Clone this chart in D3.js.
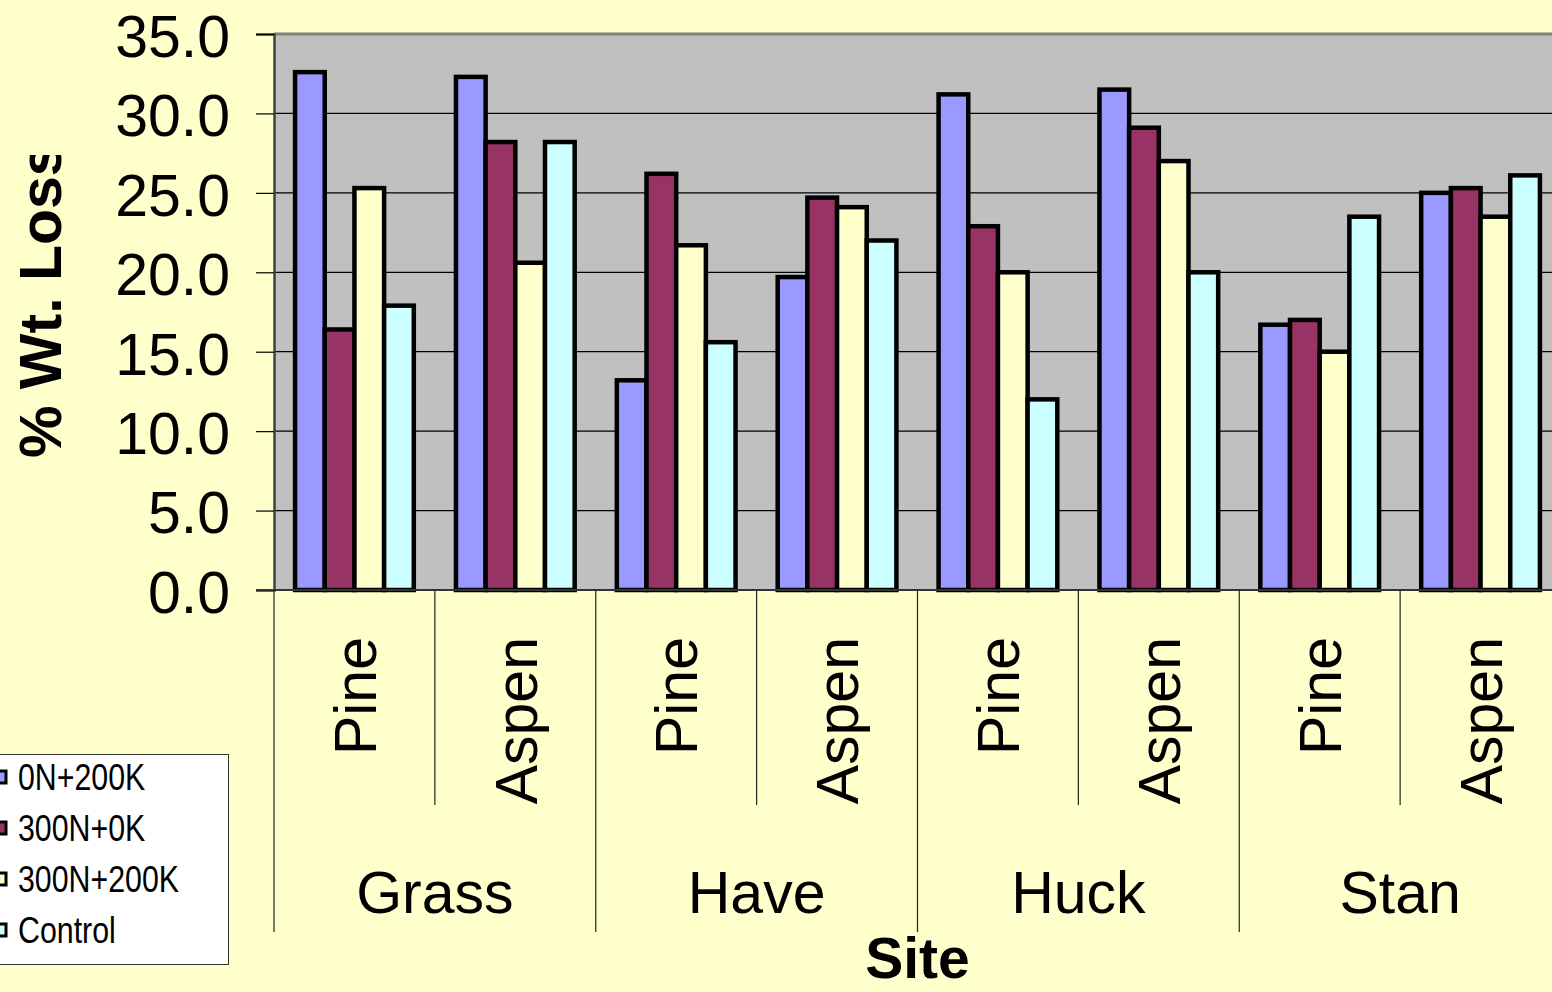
<!DOCTYPE html>
<html>
<head>
<meta charset="utf-8">
<script src="https://cdn.jsdelivr.net/npm/d3@7"></script>
<style>
  html, body { margin: 0; padding: 0; background: #FFFFCC; overflow: hidden; }
  svg { display: block; }
</style>
</head>
<body>
<svg id="chart" width="1552" height="992"></svg>
<script>
// Litter bag decomposition: percent weight loss by site, litter type and fertiliser treatment
const sites = ["Grass", "Have", "Huck", "Stan"];
const litterTypes = ["Pine", "Aspen"];
const seriesNames = ["0N+200K", "300N+0K", "300N+200K", "Control"];
const seriesColors = ["#9999FF", "#993366", "#FFFFCC", "#CCFFFF"];

const lossN0K200 = [32.6, 32.3, 13.2, 19.7, 31.2, 31.5, 16.7, 25.0];
const lossN300K0 = [16.4, 28.2, 26.2, 24.7, 22.9, 29.1, 17.0, 25.3];
const lossN300K200 = [25.3, 20.6, 21.7, 24.1, 20.0, 27.0, 15.0, 23.5];
const lossControl = [17.9, 28.2, 15.6, 22.0, 12.0, 20.0, 23.5, 26.1];

const yTicks = [0, 5, 10, 15, 20, 25, 30, 35];

const seriesValues = [lossN0K200, lossN300K0, lossN300K200, lossControl];

// one category per site/litter-type pair
const categories = [];
sites.forEach(s => litterTypes.forEach(t => categories.push({ site: s, type: t, key: s + "|" + t })));

const svg = d3.select("#chart");
const W = 1552, H = 992;

const plot = { left: 274, top: 34, right: 1561, bottom: 590 };

const x = d3.scaleBand()
  .domain(categories.map(c => c.key))
  .range([plot.left, plot.right])
  .paddingInner(0.262)
  .paddingOuter(0.131);

const xInner = d3.scaleBand()
  .domain(seriesNames)
  .range([0, x.bandwidth()])
  .padding(0);

const y = d3.scaleLinear().domain([0, 35]).range([plot.bottom, plot.top]);

const step = x.step();
const catStart = i => plot.left + i * step;

// plot area
svg.append("rect")
  .attr("x", plot.left).attr("y", plot.top)
  .attr("width", plot.right - plot.left).attr("height", plot.bottom - plot.top)
  .attr("fill", "#C0C0C0");

// horizontal gridlines
svg.append("g")
  .selectAll("line")
  .data(yTicks.filter(v => v > 0 && v < 35))
  .join("line")
  .attr("x1", plot.left).attr("x2", plot.right)
  .attr("y1", d => y(d)).attr("y2", d => y(d))
  .attr("stroke", "#000").attr("stroke-width", 1.2);

// plot border at the top
svg.append("line")
  .attr("x1", plot.left).attr("x2", plot.right)
  .attr("y1", y(35)).attr("y2", y(35))
  .attr("stroke", "#808080").attr("stroke-width", 3);

// bars
const barData = [];
seriesNames.forEach((name, si) => {
  categories.forEach((c, ci) => {
    barData.push({ series: name, color: seriesColors[si], key: c.key, value: seriesValues[si][ci] });
  });
});

svg.append("g")
  .selectAll("rect")
  .data(barData)
  .join("rect")
  .attr("x", d => x(d.key) + xInner(d.series))
  .attr("y", d => y(d.value))
  .attr("width", xInner.bandwidth())
  .attr("height", d => y(0) - y(d.value))
  .attr("fill", d => d.color)
  .attr("stroke", "#000")
  .attr("stroke-width", 4.5);

// value axis
const yAxis = d3.axisLeft(y)
  .tickValues(yTicks)
  .tickSize(18)
  .tickPadding(26)
  .tickFormat(d3.format(".1f"));

const yg = svg.append("g")
  .attr("transform", `translate(${plot.left},0)`)
  .call(yAxis);
yg.select(".domain").attr("stroke", "#404040").attr("stroke-width", 2.5);
yg.selectAll(".tick line").attr("stroke", "#000").attr("stroke-width", 1.2);
yg.selectAll(".tick text")
  .attr("font-family", "'Liberation Sans', Arial, sans-serif")
  .attr("font-size", 59)
  .attr("fill", "#000")
  .attr("dy", "0.38em");

// category axis line
svg.append("line")
  .attr("x1", plot.left - 18).attr("x2", plot.right)
  .attr("y1", plot.bottom).attr("y2", plot.bottom)
  .attr("stroke", "#333").attr("stroke-width", 2);

// dividers between categories: short within a site, long between sites
const dividers = d3.range(categories.length + 1).map(i => ({ x: catStart(i), long: i % litterTypes.length === 0 }));
svg.append("g")
  .selectAll("line")
  .data(dividers)
  .join("line")
  .attr("x1", d => d.x).attr("x2", d => d.x)
  .attr("y1", plot.bottom)
  .attr("y2", d => d.long ? 932 : 805)
  .attr("stroke", "#222").attr("stroke-width", 1.2);

// litter type labels (rotated)
svg.append("g")
  .selectAll("text")
  .data(categories)
  .join("text")
  .attr("transform", d => `translate(${x(d.key) + x.bandwidth() / 2},637) rotate(-90)`)
  .attr("text-anchor", "end")
  .attr("dy", "0.36em")
  .attr("font-family", "'Liberation Sans', Arial, sans-serif")
  .attr("font-size", 59)
  .attr("fill", "#000")
  .text(d => d.type);

// site labels
svg.append("g")
  .selectAll("text")
  .data(sites)
  .join("text")
  .attr("x", (d, i) => catStart(i * litterTypes.length) + step * litterTypes.length / 2)
  .attr("y", 913)
  .attr("text-anchor", "middle")
  .attr("font-family", "'Liberation Sans', Arial, sans-serif")
  .attr("font-size", 59)
  .attr("fill", "#000")
  .text(d => d);

// axis titles
svg.append("text")
  .attr("x", (plot.left + plot.right) / 2)
  .attr("y", 978)
  .attr("text-anchor", "middle")
  .attr("font-family", "'Liberation Sans', Arial, sans-serif")
  .attr("font-weight", "bold")
  .attr("font-size", 57)
  .attr("fill", "#000")
  .text("Site");

svg.append("clipPath").attr("id", "ytitle-clip")
  .append("rect").attr("x", 0).attr("y", 155).attr("width", 120).attr("height", H - 155);

svg.append("g")
  .attr("clip-path", "url(#ytitle-clip)")
  .append("text")
  .attr("transform", "translate(61,458) rotate(-90)")
  .attr("text-anchor", "start")
  .attr("font-family", "'Liberation Sans', Arial, sans-serif")
  .attr("font-weight", "bold")
  .attr("font-size", 59)
  .attr("fill", "#000")
  .text("% Wt. Loss");

// legend
const legend = svg.append("g");
legend.append("rect")
  .attr("x", -4).attr("y", 754.5)
  .attr("width", 232.5).attr("height", 210)
  .attr("fill", "#FFFFFF")
  .attr("stroke", "#333").attr("stroke-width", 1);

const legendRow = d3.scalePoint().domain(seriesNames).range([777, 930]);

const items = legend.selectAll("g.item")
  .data(seriesNames)
  .join("g")
  .attr("class", "item")
  .attr("transform", d => `translate(0,${legendRow(d)})`);

items.append("rect")
  .attr("x", -6).attr("y", -6)
  .attr("width", 12).attr("height", 12)
  .attr("fill", (d, i) => seriesColors[i])
  .attr("stroke", "#000").attr("stroke-width", 3);

// condensed legend labels
items.append("text")
  .attr("transform", "translate(18,0) scale(0.82,1)")
  .attr("dy", "0.36em")
  .attr("font-family", "'Liberation Sans Narrow', 'Arial Narrow', 'Liberation Sans', sans-serif")
  .attr("font-size", 37)
  .attr("fill", "#000")
  .text(d => d);
</script>
</body>
</html>
